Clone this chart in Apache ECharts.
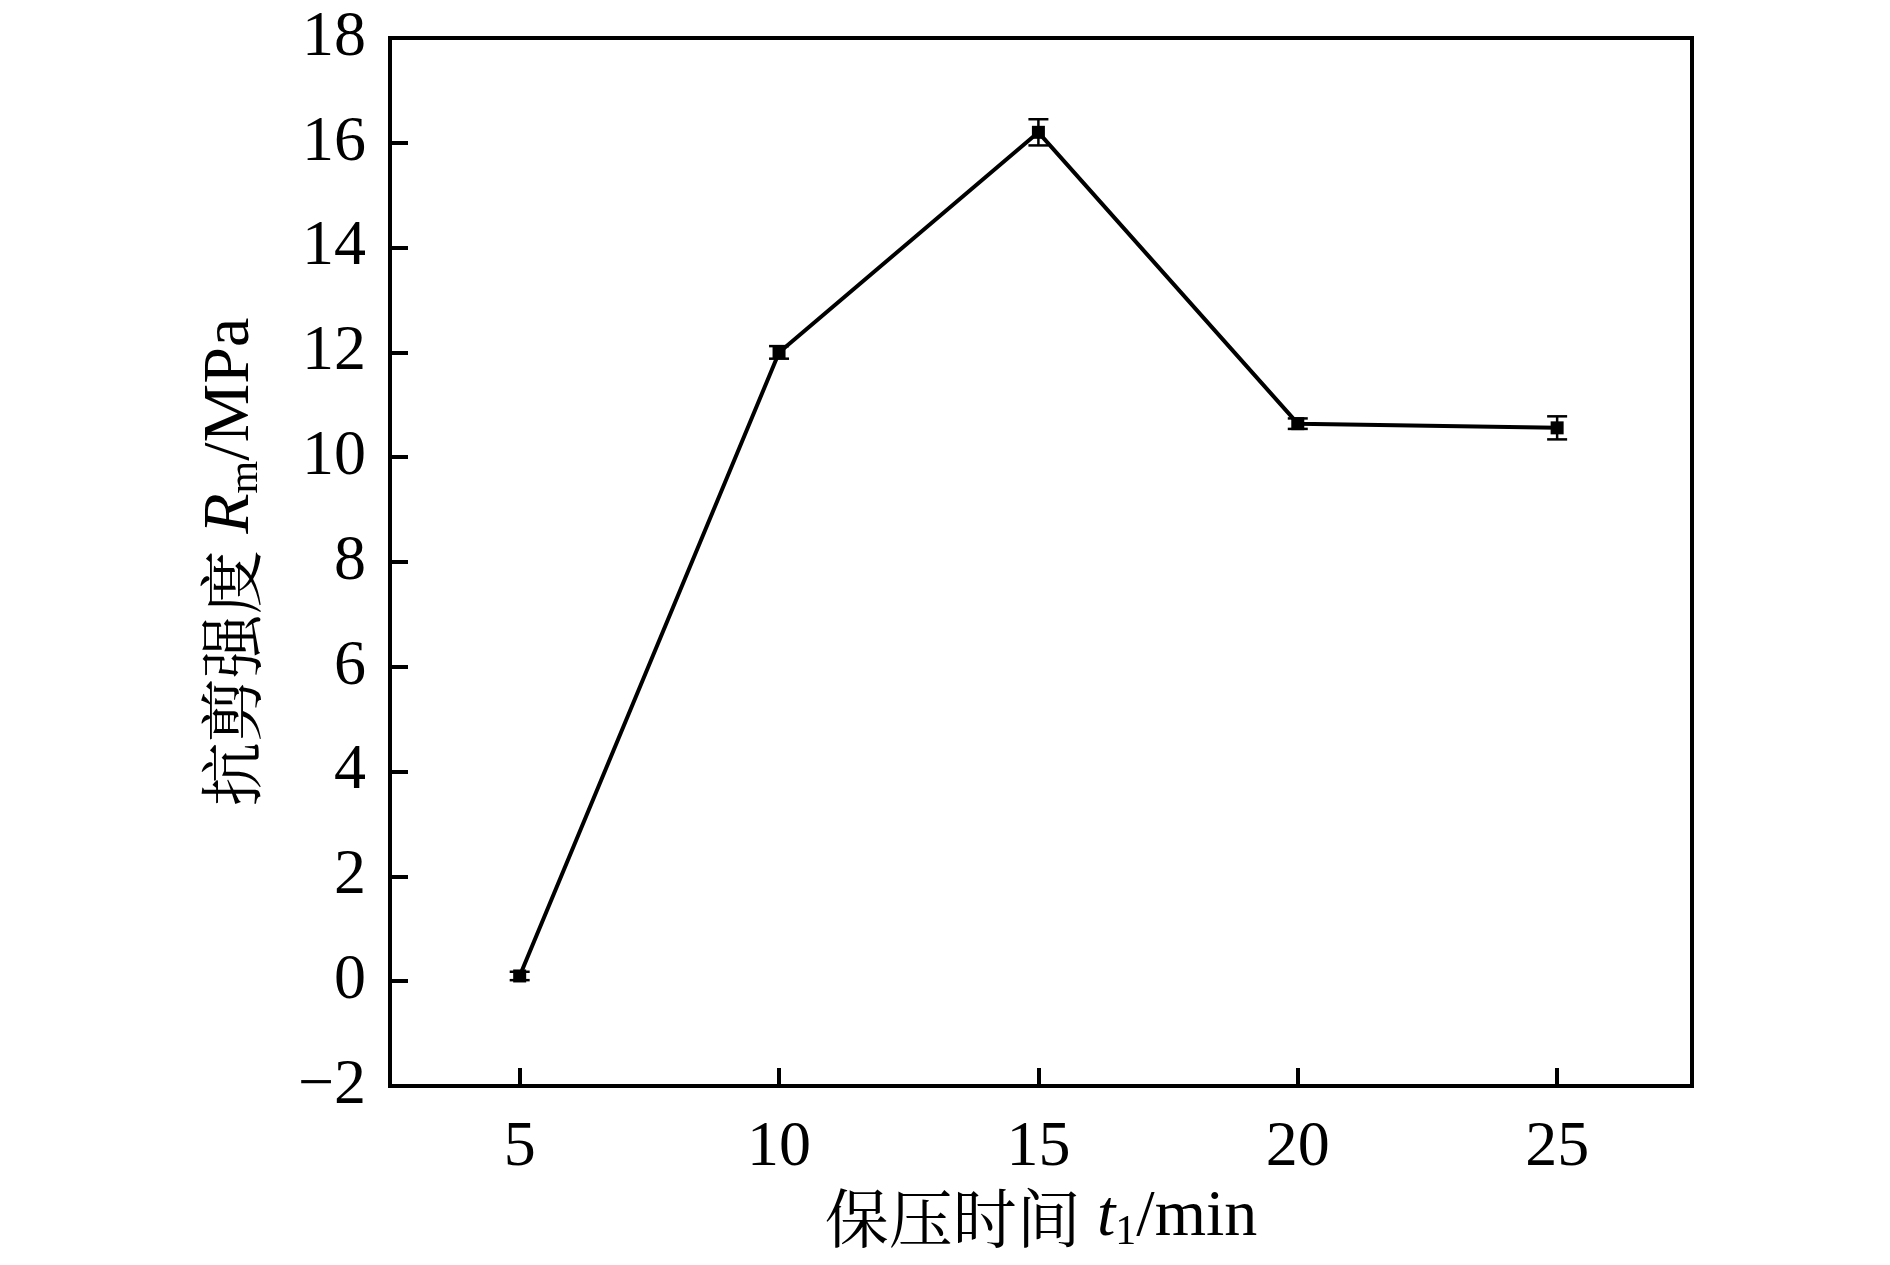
<!DOCTYPE html>
<html>
<head>
<meta charset="utf-8">
<script src="https://cdn.jsdelivr.net/npm/echarts@6/dist/echarts.min.js"></script>
<style>
html,body{margin:0;padding:0;background:#fff;}
#chart{width:1890px;height:1265px;}
</style>
</head>
<body>
<div id="chart"></div>
<script>
const times = [5, 10, 15, 20, 25];
const strength = [0.1, 12.0, 16.2, 10.64, 10.56];
const errors = [0.08, 0.12, 0.25, 0.1, 0.22];
const xTicks = [5, 10, 15, 20, 25];
const yTicks = [-2, 0, 2, 4, 6, 8, 10, 12, 14, 16, 18];

const FONT = 'Liberation Serif';
const CJK = '"Noto Serif CJK SC", "Noto Sans CJK SC", serif';

const lineData = times.map((t, i) => [t, strength[i]]);
const errData = times.map((t, i) => [t, strength[i] - errors[i], strength[i] + errors[i]]);

const chart = echarts.init(document.getElementById('chart'));
chart.setOption({
  animation: false,
  backgroundColor: '#fff',
  grid: {left: 390, top: 38, width: 1302, height: 1048, show: true, borderColor: '#000', borderWidth: 4, backgroundColor: 'transparent'},
  xAxis: {
    type: 'value', min: 2.5, max: 27.6,
    splitLine: {show: false},
    axisLine: {show: true, onZero: false, lineStyle: {color: '#000', width: 4}},
    axisTick: {show: true, inside: true, length: 18, lineStyle: {color: '#000', width: 4}, customValues: xTicks},
    axisLabel: {color: '#000', fontFamily: FONT, fontSize: 64, margin: 30, customValues: xTicks},
    name: '{c|保压时间 }{i|t}{s|1}{n|/min}',
    nameLocation: 'middle', nameGap: 90,
    nameTextStyle: {
      rich: {
        c: {fontFamily: CJK, fontSize: 64, color: '#000'},
        i: {fontFamily: FONT, fontStyle: 'italic', fontSize: 66, color: '#000'},
        s: {fontFamily: FONT, fontSize: 42, color: '#000', padding: [30, 0, 0, 0]},
        n: {fontFamily: FONT, fontSize: 66, color: '#000'}
      }
    }
  },
  yAxis: {
    type: 'value', min: -2, max: 18, interval: 2,
    splitLine: {show: false},
    axisLine: {show: true, lineStyle: {color: '#000', width: 4}},
    axisTick: {show: true, inside: true, length: 18, lineStyle: {color: '#000', width: 4}},
    axisLabel: {color: '#000', fontFamily: FONT, fontSize: 64, margin: 24,
      formatter: v => (v < 0 ? '\u2212' + Math.abs(v) : String(v))},
    name: '{c|抗剪强度 }{i|R}{s|m}{n|/MPa}',
    nameLocation: 'middle', nameGap: 123,
    nameTextStyle: {
      rich: {
        c: {fontFamily: CJK, fontSize: 64, color: '#000'},
        i: {fontFamily: FONT, fontStyle: 'italic', fontSize: 66, color: '#000'},
        s: {fontFamily: FONT, fontSize: 42, color: '#000', padding: [30, 0, 0, 0]},
        n: {fontFamily: FONT, fontSize: 66, color: '#000'}
      }
    }
  },
  series: [
    {
      type: 'line', data: lineData,
      symbol: 'rect', symbolSize: 13,
      lineStyle: {color: '#000', width: 4},
      itemStyle: {color: '#000'},
      z: 3
    },
    {
      type: 'custom', data: errData,
      renderItem: function (params, api) {
        const x = api.value(0);
        const lo = api.coord([x, api.value(1)]);
        const hi = api.coord([x, api.value(2)]);
        const cap = 10;
        const style = {stroke: '#000', lineWidth: 2.5, fill: null};
        return {
          type: 'group',
          children: [
            {type: 'line', shape: {x1: lo[0], y1: lo[1], x2: hi[0], y2: hi[1]}, style: style},
            {type: 'line', shape: {x1: lo[0] - cap, y1: lo[1], x2: lo[0] + cap, y2: lo[1]}, style: style},
            {type: 'line', shape: {x1: hi[0] - cap, y1: hi[1], x2: hi[0] + cap, y2: hi[1]}, style: style}
          ]
        };
      },
      z: 4
    }
  ]
});
</script>
</body>
</html>
